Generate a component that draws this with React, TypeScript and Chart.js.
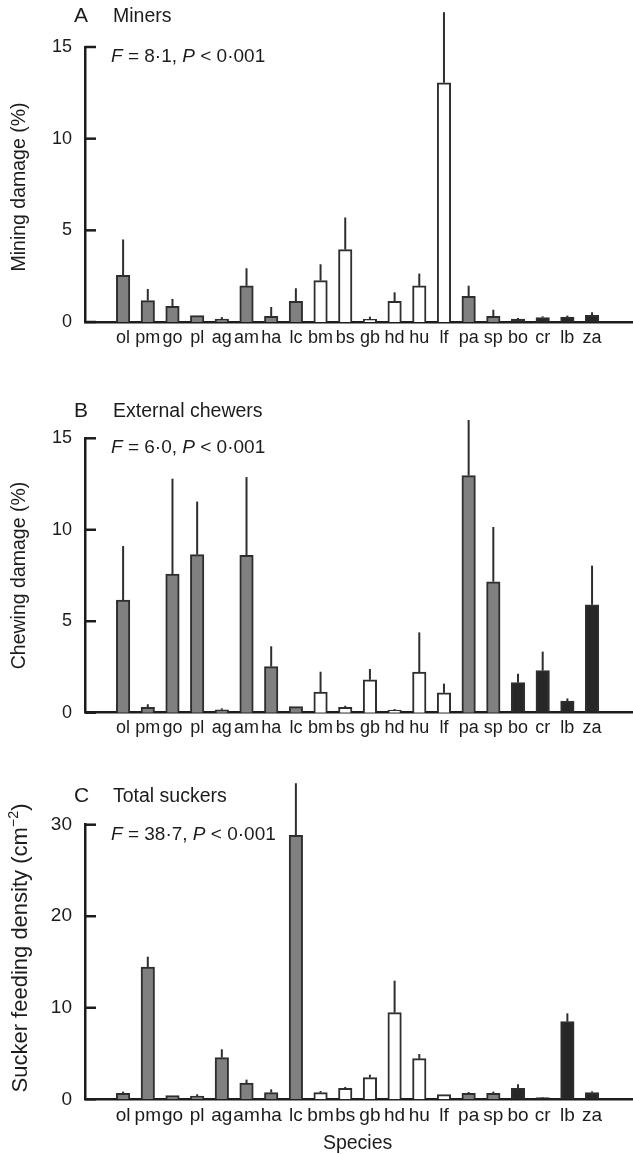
import React, { useEffect, useRef } from 'react';
import { Chart, registerables } from 'chart.js';

Chart.register(...registerables);

// ---------------- data ----------------
const species = ['ol', 'pm', 'go', 'pl', 'ag', 'am', 'ha', 'lc', 'bm', 'bs', 'gb', 'hd', 'hu', 'lf', 'pa', 'sp', 'bo', 'cr', 'lb', 'za'];
// g = grey group, w = white group, b = black group
const speciesGroup = ['g', 'g', 'g', 'g', 'g', 'g', 'g', 'g', 'w', 'w', 'w', 'w', 'w', 'w', 'g', 'g', 'b', 'b', 'b', 'b'];

const miningMean = [2.55, 1.17, 0.86, 0.35, 0.16, 1.97, 0.31, 1.13, 2.26, 3.95, 0.15, 1.13, 1.97, 13.05, 1.4, 0.31, 0.16, 0.24, 0.27, 0.36];
const miningSE = [1.95, 0.63, 0.4, 0, 0.11, 0.96, 0.51, 0.71, 0.89, 1.75, 0.14, 0.49, 0.67, 3.85, 0.58, 0.36, 0.06, 0.07, 0.08, 0.17];

const chewingMean = [6.16, 0.29, 7.58, 8.64, 0.16, 8.6, 2.52, 0.33, 1.13, 0.29, 1.8, 0.15, 2.22, 1.09, 12.96, 7.16, 1.64, 2.3, 0.64, 5.9];
const chewingSE = [2.95, 0.17, 5.21, 2.9, 0.08, 4.28, 1.11, 0, 1.11, 0.09, 0.59, 0.05, 2.17, 0.5, 3.04, 2.99, 0.49, 1.04, 0.14, 2.14];

const suckerMean = [0.66, 14.45, 0.4, 0.36, 4.55, 1.78, 0.73, 28.83, 0.73, 1.2, 2.37, 9.47, 4.44, 0.51, 0.66, 0.66, 1.2, 0.18, 8.48, 0.73];
const suckerSE = [0.18, 1.13, 0, 0.19, 0.91, 0.37, 0.36, 5.7, 0.18, 0.15, 0.32, 3.49, 0.51, 0, 0.14, 0.18, 0.44, 0.07, 0.91, 0.14];

const ticksAB = [0, 5, 10, 15];
const ticksC = [0, 10, 20, 30];

// ---------------- styles ----------------
const FONT = '"Liberation Sans", Arial, Helvetica, sans-serif';
const INK = '#1c1c1c';
const BAR_BORDER = '#2e2e2e';
const FILLS: Record<string, string> = { g: '#808080', w: '#ffffff', b: '#272727' };

type Seg = { t: string; italic?: boolean; sup?: boolean };

type Panel = {
  top: number;
  height: number;
  padTop: number;
  xHeight: number;
  mean: number[];
  se: number[];
  yTicks: number[];
  letter: string;
  title: string;
  titleBaseline: number;
  stat: Seg[];
  statBaseline: number;
  yTitle: Seg[];
  yTitleX: number;
  yTitleY: number;
  yTitleSize: number;
  tickSize: number;
  xTitle?: string;
  xTitleBaseline?: number;
};

const panels: Panel[] = [
  {
    top: 0, height: 370, padTop: 47, xHeight: 48,
    mean: miningMean, se: miningSE, yTicks: ticksAB,
    letter: 'A', title: 'Miners', titleBaseline: 22,
    stat: [{ t: 'F', italic: true }, { t: ' = 8·1, ' }, { t: 'P', italic: true }, { t: ' < 0·001' }], statBaseline: 61.5,
    yTitle: [{ t: 'Mining damage (%)' }], yTitleX: 25, yTitleY: 187, yTitleSize: 19.5, tickSize: 18,
  },
  {
    top: 370, height: 390, padTop: 68.3, xHeight: 47.3,
    mean: chewingMean, se: chewingSE, yTicks: ticksAB,
    letter: 'B', title: 'External chewers', titleBaseline: 46.7,
    stat: [{ t: 'F', italic: true }, { t: ' = 6·0, ' }, { t: 'P', italic: true }, { t: ' < 0·001' }], statBaseline: 83,
    yTitle: [{ t: 'Chewing damage (%)' }], yTitleX: 25, yTitleY: 205.5, yTitleSize: 19.5, tickSize: 18,
  },
  {
    top: 760, height: 395, padTop: 64.7, xHeight: 55.7,
    mean: suckerMean, se: suckerSE, yTicks: ticksC,
    letter: 'C', title: 'Total suckers', titleBaseline: 42,
    stat: [{ t: 'F', italic: true }, { t: ' = 38·7, ' }, { t: 'P', italic: true }, { t: ' < 0·001' }], statBaseline: 80,
    yTitle: [{ t: 'Sucker feeding density (cm' }, { t: '−2', sup: true }, { t: ')' }], yTitleX: 26.5, yTitleY: 188, yTitleSize: 22, tickSize: 19,
    xTitle: 'Species', xTitleBaseline: 389,
  },
];

function font(size: number, italic = false) {
  return `${italic ? 'italic ' : ''}${size}px ${FONT}`;
}

function segWidth(ctx: CanvasRenderingContext2D, segs: Seg[], size: number) {
  let w = 0;
  for (const s of segs) {
    ctx.font = font(s.sup ? size * 0.65 : size, !!s.italic);
    w += ctx.measureText(s.t).width;
  }
  return w;
}

function drawSegs(ctx: CanvasRenderingContext2D, segs: Seg[], size: number, x: number, y: number) {
  let cx = x;
  for (const s of segs) {
    const sz = s.sup ? size * 0.65 : size;
    ctx.font = font(sz, !!s.italic);
    ctx.fillText(s.t, cx, s.sup ? y - size * 0.4 : y);
    cx += ctx.measureText(s.t).width;
  }
}

function buildConfig(p: Panel): any {
  const yMax = p.yTicks[p.yTicks.length - 1];
  const yStep = p.yTicks[1] - p.yTicks[0];

  const errorBars = {
    id: 'errorBars',
    afterDatasetsDraw(chart: any) {
      const { ctx } = chart;
      const x = chart.scales.x;
      const y = chart.scales.y;
      ctx.save();
      ctx.strokeStyle = BAR_BORDER;
      ctx.lineWidth = 2;
      p.mean.forEach((m, i) => {
        const e = p.se[i];
        if (!e) return;
        const px = x.getPixelForValue(i);
        ctx.beginPath();
        ctx.moveTo(px, y.getPixelForValue(m));
        ctx.lineTo(px, y.getPixelForValue(m + e));
        ctx.stroke();
      });
      ctx.restore();
    },
  };

  const innerTicks = {
    id: 'innerTicks',
    afterDraw(chart: any) {
      const { ctx, chartArea } = chart;
      const y = chart.scales.y;
      ctx.save();
      ctx.strokeStyle = INK;
      ctx.lineWidth = 2.5;
      y.ticks.forEach((t: any) => {
        const py = y.getPixelForValue(t.value);
        ctx.beginPath();
        ctx.moveTo(chartArea.left, py);
        ctx.lineTo(chartArea.left + 11, py);
        ctx.stroke();
      });
      ctx.restore();
    },
  };

  const texts = {
    id: 'panelTexts',
    afterDraw(chart: any) {
      const { ctx } = chart;
      ctx.save();
      ctx.fillStyle = INK;
      ctx.textBaseline = 'alphabetic';
      ctx.textAlign = 'left';
      ctx.font = font(21);
      ctx.fillText(p.letter, 74, p.titleBaseline);
      ctx.font = font(19.5);
      ctx.fillText(p.title, 113, p.titleBaseline);
      drawSegs(ctx, p.stat, 19, 111, p.statBaseline);

      // rotated y-axis title
      ctx.save();
      ctx.translate(p.yTitleX, p.yTitleY);
      ctx.rotate(-Math.PI / 2);
      const w = segWidth(ctx, p.yTitle, p.yTitleSize);
      drawSegs(ctx, p.yTitle, p.yTitleSize, -w / 2, 0);
      ctx.restore();

      if (p.xTitle) {
        const x = chart.scales.x;
        const cx = (x.getPixelForValue(0) + x.getPixelForValue(species.length - 1)) / 2;
        ctx.font = font(19.5);
        ctx.textAlign = 'center';
        ctx.fillText(p.xTitle, cx, p.xTitleBaseline);
      }
      ctx.restore();
    },
  };

  return {
    type: 'bar',
    data: {
      datasets: [
        {
          data: p.mean.map((v, i) => ({ x: i, y: v })),
          backgroundColor: speciesGroup.map((g) => FILLS[g]),
          borderColor: BAR_BORDER,
          borderWidth: 2,
          barThickness: 13.5,
        },
      ],
    },
    options: {
      responsive: false,
      animation: false,
      devicePixelRatio: 1,
      layout: { padding: { top: p.padTop, left: 0, right: 0, bottom: 0 } },
      plugins: { legend: { display: false }, tooltip: { enabled: false }, title: { display: false } },
      scales: {
        x: {
          type: 'linear',
          min: -0.989,
          max: 20.104,
          afterFit: (s: any) => { s.height = p.xHeight; },
          afterBuildTicks: (s: any) => { s.ticks = species.map((_, i) => ({ value: i })); },
          ticks: {
            callback: (v: any) => species[Math.round(Number(v))] ?? '',
            font: { family: FONT, size: p.tickSize },
            color: INK,
            padding: 5,
            maxRotation: 0,
            minRotation: 0,
            autoSkip: false,
          },
          grid: { display: false, drawTicks: false },
          border: { display: true, width: 2.5, color: INK },
        },
        y: {
          type: 'linear',
          min: 0,
          max: yMax,
          afterFit: (s: any) => { s.width = 85; },
          ticks: {
            stepSize: yStep,
            font: { family: FONT, size: p.tickSize },
            color: INK,
            padding: 13,
          },
          grid: { display: false, drawTicks: false },
          border: { display: true, width: 2.5, color: INK },
        },
      },
    },
    plugins: [errorBars, innerTicks, texts],
  };
}

export default function App() {
  const refs = useRef<(HTMLCanvasElement | null)[]>([]);

  useEffect(() => {
    const charts = panels.map((p, i) => new Chart(refs.current[i] as HTMLCanvasElement, buildConfig(p)));
    return () => charts.forEach((c) => c.destroy());
  }, []);

  return (
    <div style={{ position: 'absolute', left: 0, top: 0, width: 633, height: 1155, background: '#ffffff' }}>
      {panels.map((p, i) => (
        <canvas
          key={p.letter}
          ref={(el) => { refs.current[i] = el; }}
          width={633}
          height={p.height}
          style={{ position: 'absolute', left: 0, top: p.top, width: 633, height: p.height }}
        />
      ))}
    </div>
  );
}
